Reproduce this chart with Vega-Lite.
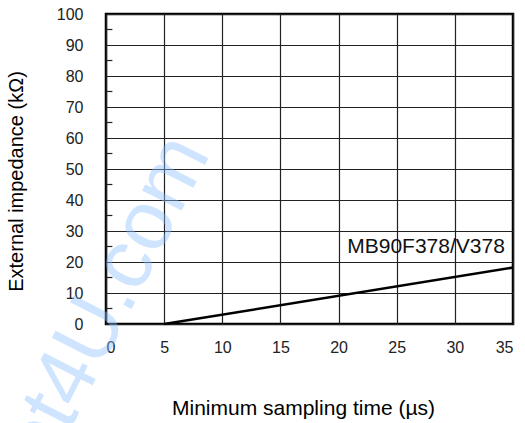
{
  "$schema": "https://vega.github.io/schema/vega-lite/v6.json",
  "width": 407,
  "height": 310,
  "autosize": "none",
  "padding": {"left": 106, "top": 14, "right": 12, "bottom": 99},
  "background": "white",
  "config": {
    "font": "Liberation Sans",
    "view": {"stroke": "black", "strokeWidth": 2.5},
    "axis": {"labelFont": "Liberation Sans", "titleFont": "Liberation Sans"}
  },
  "datasets": {
    "curve": [
      {"t": 5, "z": 0},
      {"t": 35, "z": 18.2}
    ],
    "minor": [
      {"z": 5}, {"z": 15}, {"z": 25}, {"z": 35}, {"z": 45},
      {"z": 55}, {"z": 65}, {"z": 75}, {"z": 85}, {"z": 95}
    ],
    "labels": [
      {"t": 34.3, "z": 22.9, "name": "MB90F378/V378"}
    ],
    "mark": [
      {"t": 9.0, "z": 55.0, "txt": "DataSheet4U.com"}
    ]
  },
  "layer": [
    {
      "data": {"name": "curve"},
      "mark": {"type": "line", "color": "black", "strokeWidth": 2.5},
      "encoding": {
        "x": {
          "field": "t", "type": "quantitative",
          "scale": {"domain": [0, 35], "nice": false, "zero": false},
          "axis": {
            "values": [0, 5, 10, 15, 20, 25, 30, 35],
            "tickCount": 40,
            "grid": true, "gridColor": "#222", "gridWidth": 1.2, "gridOpacity": 1,
            "ticks": false, "domain": false,
            "labelFontSize": 16, "labelColor": "#222", "labelPadding": 15, "labelDx": -2,
            "title": "Minimum sampling time (µs)",
            "titleFontSize": 21, "titleFontWeight": "normal", "titleColor": "black",
            "titleX": 197, "titleY": 84, "titleAlign": "center", "titleBaseline": "middle"
          }
        },
        "y": {
          "field": "z", "type": "quantitative",
          "scale": {"domain": [0, 100], "nice": false},
          "axis": {
            "values": [0, 10, 20, 30, 40, 50, 60, 70, 80, 90, 100],
            "tickCount": 40,
            "labelOverlap": false,
            "grid": true, "gridColor": "#222", "gridWidth": 1.2, "gridOpacity": 1,
            "ticks": false,
            "domain": false,
            "labelFontSize": 16, "labelColor": "#222", "labelPadding": 23, "labelDy": 3,
            "title": "External impedance (kΩ)",
            "titleFontSize": 20, "titleFontWeight": "normal", "titleColor": "black",
            "titleX": -90, "titleY": 167, "titleAngle": 270, "titleAlign": "center", "titleBaseline": "middle"
          }
        }
      }
    },
    {
      "data": {"name": "minor"},
      "mark": {"type": "rule", "color": "#222", "strokeWidth": 1.2},
      "encoding": {
        "x": {"datum": 0, "type": "quantitative"},
        "x2": {"datum": 0.55},
        "y": {"field": "z", "type": "quantitative"}
      }
    },
    {
      "data": {"name": "labels"},
      "mark": {"type": "text", "align": "right", "baseline": "alphabetic", "fontSize": 21, "color": "#111"},
      "encoding": {
        "x": {"field": "t", "type": "quantitative"},
        "y": {"field": "z", "type": "quantitative"},
        "text": {"field": "name"}
      }
    },
    {
      "data": {"name": "mark"},
      "mark": {"type": "text", "align": "right", "baseline": "alphabetic", "fontSize": 84, "angle": -63, "color": "#8cc0ff", "opacity": 0.42},
      "encoding": {
        "x": {"field": "t", "type": "quantitative"},
        "y": {"field": "z", "type": "quantitative"},
        "text": {"field": "txt"}
      }
    }
  ]
}
